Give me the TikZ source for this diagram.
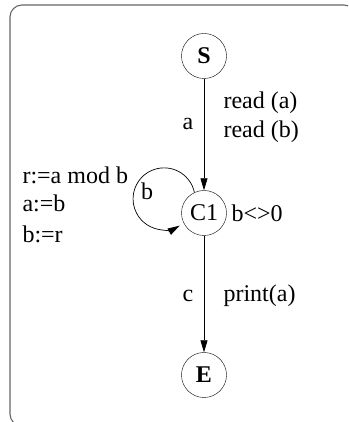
\documentclass[tikz,border=0pt]{standalone}
\usepackage{fontspec}
\setmainfont{Liberation Serif}
\usepackage{tikz}
\usetikzlibrary{positioning,arrows.meta}

\begin{document}
\begin{tikzpicture}[x=1pt,y=1pt,
  every node/.style={font=\fontsize{24}{28}\selectfont},
  state/.style={circle,draw,thin,minimum size=45pt,inner sep=0pt},
  edge/.style={draw,line width=0.7pt,-{Triangle[length=12pt,width=7pt]}}]
  \clip (0,0) rectangle (348,422);
  \draw[gray!80!black,line width=1.1pt,rounded corners=12pt] (10,-4) rectangle (356,417);
  \node[state] (S) at (204,366) {\textbf{S}};
  \node[state] (C1) at (204,209) {C1};
  \node[state] (E) at (204,47) {\textbf{E}};
  \draw[edge] (S) -- (C1);
  \draw[edge] (C1) -- (E);
  \draw[edge] (C1.115) arc[start angle=12,end angle=300,radius=31];
  % labels
  \node (a) at (188,298) {a};
  \node[anchor=west] (ra) at (220,319) {read (a)};
  \node[anchor=west] (rb) at (220,290) {read (b)};
  \node (lb) at (147,231) {b};
  \node[anchor=west] (mod) at (19,247) {r:=a mod b};
  \node[anchor=west] (ab) at (19,219) {a:=b};
  \node[anchor=west] (br) at (19,188) {b:=r};
  \node[anchor=west] (ne) at (228,209) {b<>0};
  \node (c) at (188,126) {c};
  \node[anchor=west] (pr) at (220,126) {print(a)};
\end{tikzpicture}
\end{document}
